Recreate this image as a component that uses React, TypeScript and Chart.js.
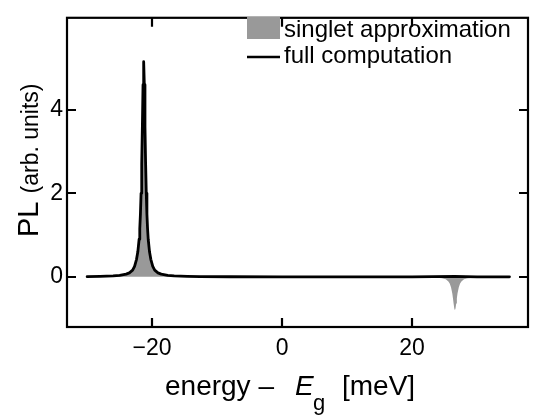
import { useEffect, useRef } from "react";
import { Chart, registerables } from "chart.js";

Chart.register(...registerables);

// energy - Eg [meV]
const fullX = [-30, -28, -26, -25, -24, -23.5, -23, -22.7, -22.4, -22.2, -22.0, -21.9, -21.8, -21.7, -21.6, -21.5, -21.4, -21.3, -21.2, -21.1, -21.0, -20.9, -20.8, -20.7, -20.6, -20.4, -20.2, -19.9, -19.6, -19.1, -18.6, -17.6, -16.6, -14.6, -12.6, -8, 0, 10, 20, 26.6, 30, 35];
const fullY = [0.006, 0.011, 0.022, 0.036, 0.065, 0.096, 0.16, 0.25, 0.42, 0.6, 0.9, 1.15, 1.5, 2.0, 2.7, 3.6, 4.6, 5.15, 4.6, 3.6, 2.7, 2.0, 1.5, 1.15, 0.9, 0.6, 0.42, 0.25, 0.16, 0.096, 0.065, 0.036, 0.022, 0.011, 0.006, 0.003, 0.001, 0, 0, 0.01, 0, 0];

const singletX = [-30, -28, -26, -25, -24, -23.5, -23, -22.7, -22.4, -22.2, -22.0, -21.9, -21.8, -21.7, -21.6, -21.5, -21.4, -21.3, -21.2, -21.1, -21.0, -20.9, -20.8, -20.7, -20.6, -20.4, -20.2, -19.9, -19.6, -19.1, -18.6, -17.6, -16.6, -14.6, -12.6, -8, 0, 10, 20, 23, 24.6, 25.2, 25.6, 25.8, 26.0, 26.2, 26.3, 26.4, 26.5, 26.6, 26.7, 26.8, 26.9, 27.0, 27.2, 27.4, 27.6, 28.0, 28.6, 30.2, 35];
const singletY = [0.006, 0.011, 0.022, 0.036, 0.065, 0.096, 0.16, 0.25, 0.42, 0.6, 0.9, 1.15, 1.5, 2.0, 2.7, 3.6, 4.55, 5.1, 4.55, 3.6, 2.7, 2.0, 1.5, 1.15, 0.9, 0.6, 0.42, 0.25, 0.16, 0.096, 0.065, 0.036, 0.022, 0.011, 0.006, 0.003, 0.001, 0, 0, -0.008, -0.031, -0.06, -0.11, -0.16, -0.246, -0.4, -0.512, -0.64, -0.753, -0.8, -0.753, -0.64, -0.512, -0.4, -0.246, -0.16, -0.11, -0.06, -0.031, -0.008, 0];

const xTicks = [-20, 0, 20];
const yTicks = [0, 2, 4];
const legendLabels = ["singlet approximation", "full computation"];

const FONT = '"Liberation Sans", Arial, Helvetica, sans-serif';

const framePlugin = {
  id: "frameTicks",
  afterDatasetsDraw(chart: any) {
    const { ctx, chartArea: a, scales } = chart;
    ctx.save();
    ctx.strokeStyle = "#000";
    ctx.lineWidth = 2.2;
    ctx.strokeRect(a.left, a.top, a.right - a.left, a.bottom - a.top);
    const tl = 9;
    ctx.beginPath();
    for (const v of xTicks) {
      const px = Math.round(scales.x.getPixelForValue(v));
      ctx.moveTo(px, a.bottom);
      ctx.lineTo(px, a.bottom - tl);
      ctx.moveTo(px, a.top);
      ctx.lineTo(px, a.top + tl);
    }
    for (const v of yTicks) {
      const py = Math.round(scales.y.getPixelForValue(v));
      ctx.moveTo(a.left, py);
      ctx.lineTo(a.left + tl, py);
      ctx.moveTo(a.right, py);
      ctx.lineTo(a.right - tl, py);
    }
    ctx.stroke();

    // legend
    ctx.fillStyle = "#999999";
    ctx.fillRect(247, 17, 33, 22);
    ctx.strokeStyle = "#000";
    ctx.lineWidth = 2.6;
    ctx.beginPath();
    ctx.moveTo(247, 57);
    ctx.lineTo(280, 57);
    ctx.stroke();
    ctx.fillStyle = "#000";
    ctx.font = `24px ${FONT}`;
    ctx.textBaseline = "alphabetic";
    ctx.textAlign = "left";
    ctx.fillText(legendLabels[0], 284, 37);
    ctx.fillText(legendLabels[1], 284, 63);

    // x title
    ctx.font = `28px ${FONT}`;
    ctx.fillText("energy \u2013", 165, 395);
    ctx.font = `italic 28px ${FONT}`;
    ctx.fillText("E", 295, 395);
    ctx.font = `22px ${FONT}`;
    ctx.fillText("g", 313, 410);
    ctx.font = `28px ${FONT}`;
    ctx.fillText("[meV]", 342, 395);

    // y title
    ctx.save();
    ctx.translate(38, 237);
    ctx.rotate(-Math.PI / 2);
    ctx.font = `29px ${FONT}`;
    ctx.fillText("PL", 0, 0);
    const w = ctx.measureText("PL ").width;
    ctx.font = `23px ${FONT}`;
    ctx.fillText("(arb. units)", w, 0);
    ctx.restore();

    ctx.restore();
  },
};

export default function App() {
  const ref = useRef<HTMLCanvasElement>(null);
  useEffect(() => {
    document.body.style.margin = "0";
    const canvas = ref.current;
    if (!canvas) return;
    const chart = new Chart(canvas, {
      type: "line",
      data: {
        datasets: [
          {
            label: legendLabels[1],
            data: fullX.map((x, i) => ({ x, y: fullY[i] })),
            borderColor: "#000",
            borderWidth: 2.8,
            borderJoinStyle: "round",
            borderCapStyle: "round",
            pointRadius: 0,
            fill: false,
            tension: 0,
            order: 0,
          },
          {
            label: legendLabels[0],
            data: singletX.map((x, i) => ({ x, y: singletY[i] })),
            borderWidth: 0,
            borderColor: "rgba(0,0,0,0)",
            backgroundColor: "#999999",
            pointRadius: 0,
            fill: "origin",
            tension: 0,
            order: 1,
          },
        ],
      },
      options: {
        animation: false,
        responsive: false,
        layout: { padding: { top: 5, right: 9, left: 0, bottom: 0 } },
        plugins: {
          legend: { display: false },
          tooltip: { enabled: false },
        },
        scales: {
          x: {
            type: "linear",
            min: -33.1,
            max: 37.85,
            grid: { display: false, drawTicks: false },
            border: { display: false },
            afterBuildTicks: (s: any) => {
              s.ticks = xTicks.map((v) => ({ value: v }));
            },
            afterFit: (s: any) => {
              s.height = 92;
            },
            ticks: {
              padding: 8,
              color: "#000",
              font: { family: FONT, size: 23 },
              callback: (v: any) => (v < 0 ? "\u2212" + Math.abs(v) : String(v)),
            },
          },
          y: {
            type: "linear",
            min: -1.2,
            max: 6.2,
            grid: { display: false, drawTicks: false },
            border: { display: false },
            afterBuildTicks: (s: any) => {
              s.ticks = yTicks.map((v) => ({ value: v }));
            },
            afterFit: (s: any) => {
              s.width = 67;
            },
            ticks: {
              padding: 4,
              color: "#000",
              font: { family: FONT, size: 23 },
            },
          },
        },
      },
      plugins: [framePlugin],
    });
    return () => chart.destroy();
  }, []);
  return (
    <div style={{ width: 537, height: 419 }}>
      <canvas ref={ref} width={537} height={419} />
    </div>
  );
}
